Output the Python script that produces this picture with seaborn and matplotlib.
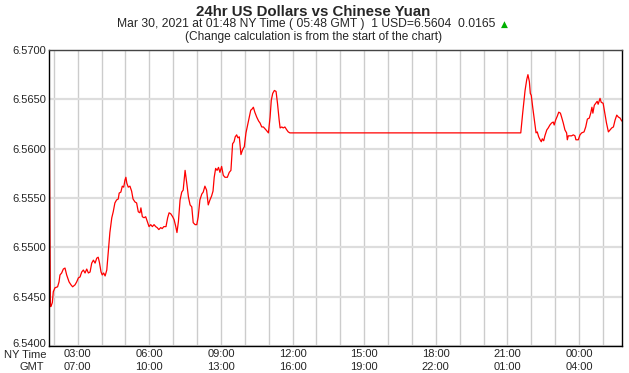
import matplotlib
matplotlib.use("Agg")
import matplotlib.pyplot as plt
from matplotlib.ticker import MultipleLocator, FixedLocator
import matplotlib.transforms as mtransforms
import seaborn as sns
import pandas as pd

# Time in hours (NY time, Mar 29 -> values > 24 are Mar 30)
hours = [1.82, 1.86, 1.88, 1.94, 1.98, 2.05, 2.16, 2.22, 2.26, 2.33, 2.40, 2.47, 2.54, 2.64, 2.72, 2.79,
         2.89, 2.96, 3.03, 3.10, 3.17, 3.24, 3.31, 3.38, 3.45, 3.52, 3.59, 3.66, 3.73, 3.80, 3.86, 3.91,
         3.98, 4.03, 4.09, 4.15, 4.22, 4.28, 4.35, 4.43, 4.49, 4.56, 4.63, 4.70, 4.74, 4.81, 4.87, 4.93,
         4.98, 5.02, 5.06, 5.12, 5.19, 5.26, 5.32, 5.40, 5.47, 5.54, 5.61, 5.65, 5.71, 5.78, 5.85, 5.92,
         5.99, 6.06, 6.13, 6.20, 6.27, 6.33, 6.40, 6.48, 6.54, 6.61, 6.70, 6.77, 6.83, 6.90, 6.98, 7.04,
         7.11, 7.16, 7.22, 7.29, 7.36, 7.42, 7.50, 7.57, 7.64, 7.71, 7.78, 7.84, 7.92, 7.99, 8.05, 8.12,
         8.20, 8.26, 8.33, 8.40, 8.47, 8.54, 8.61, 8.67, 8.72, 8.78, 8.84, 8.90, 8.96, 9.03, 9.10, 9.17,
         9.27, 9.35, 9.42, 9.49, 9.55, 9.60, 9.66, 9.71, 9.77, 9.84, 9.91, 9.98, 10.05, 10.12, 10.19,
         10.25, 10.30, 10.36, 10.42, 10.50, 10.58, 10.64, 10.71, 10.78, 10.89, 10.99, 11.06, 11.11, 11.17,
         11.24, 11.31, 11.37, 11.44, 11.48, 11.55, 11.61, 11.68, 11.76, 11.82, 11.89, 21.56, 21.64, 21.74,
         21.81, 21.86, 21.92, 21.96, 22.00, 22.06, 22.13, 22.20, 22.25, 22.31, 22.37, 22.42, 22.46, 22.52,
         22.57, 22.65, 22.71, 22.78, 22.85, 22.92, 22.96, 23.02, 23.09, 23.15, 23.22, 23.27, 23.34, 23.41,
         23.48, 23.51, 23.55, 23.69, 23.76, 23.83, 23.87, 23.97, 24.04, 24.11, 24.21, 24.28, 24.35, 24.43,
         24.49, 24.54, 24.58, 24.64, 24.70, 24.76, 24.80, 24.88, 24.93, 25.01, 25.08, 25.15, 25.23, 25.30,
         25.37, 25.44, 25.51, 25.58, 25.65, 25.72, 25.79]

rates = [6.5600, 6.5440, 6.5440, 6.5444, 6.5455, 6.5459, 6.5460, 6.5465, 6.5472, 6.5474, 6.5478, 6.5479,
         6.5472, 6.5465, 6.5462, 6.5460, 6.5462, 6.5465, 6.5469, 6.5470, 6.5475, 6.5477, 6.5474, 6.5478,
         6.5474, 6.5475, 6.5484, 6.5487, 6.5484, 6.5489, 6.5490, 6.5485, 6.5475, 6.5472, 6.5474, 6.5471,
         6.5477, 6.5494, 6.5515, 6.5530, 6.5536, 6.5545, 6.5548, 6.5549, 6.5555, 6.5556, 6.5562, 6.5561,
         6.5568, 6.5571, 6.5565, 6.5561, 6.5562, 6.5557, 6.5549, 6.5546, 6.5545, 6.5536, 6.5535, 6.5540,
         6.5531, 6.5530, 6.5531, 6.5526, 6.5521, 6.5523, 6.5521, 6.5523, 6.5521, 6.5520, 6.5518, 6.5520,
         6.5519, 6.5521, 6.5521, 6.5530, 6.5535, 6.5534, 6.5531, 6.5528, 6.5521, 6.5515, 6.5526, 6.5548,
         6.5556, 6.5558, 6.5578, 6.5565, 6.5551, 6.5543, 6.5541, 6.5525, 6.5523, 6.5523, 6.5531, 6.5548,
         6.5554, 6.5556, 6.5562, 6.5558, 6.5543, 6.5548, 6.5552, 6.5557, 6.5571, 6.5580, 6.5578, 6.5581,
         6.5576, 6.5582, 6.5573, 6.5571, 6.5571, 6.5576, 6.5578, 6.5605, 6.5607, 6.5612, 6.5614, 6.5611,
         6.5612, 6.5594, 6.5599, 6.5602, 6.5616, 6.5624, 6.5632, 6.5639, 6.5640, 6.5642, 6.5637, 6.5632,
         6.5628, 6.5626, 6.5622, 6.5622, 6.5619, 6.5616, 6.5632, 6.5649, 6.5656, 6.5659, 6.5658, 6.5646,
         6.5629, 6.5621, 6.5622, 6.5621, 6.5622, 6.5619, 6.5617, 6.5616, 6.5616, 6.5636, 6.5659, 6.5670,
         6.5675, 6.5668, 6.5656, 6.5654, 6.5642, 6.5629, 6.5616, 6.5617, 6.5612, 6.5609, 6.5607, 6.5610,
         6.5608, 6.5613, 6.5619, 6.5621, 6.5624, 6.5626, 6.5627, 6.5624, 6.5629, 6.5633, 6.5637, 6.5636,
         6.5632, 6.5626, 6.5619, 6.5616, 6.5609, 6.5613, 6.5613, 6.5614, 6.5613, 6.5609, 6.5609, 6.5614,
         6.5616, 6.5617, 6.5622, 6.5630, 6.5631, 6.5636, 6.5642, 6.5636, 6.5644, 6.5646, 6.5648, 6.5645,
         6.5651, 6.5647, 6.5646, 6.5636, 6.5626, 6.5617, 6.5619, 6.5621, 6.5622, 6.5629, 6.5634, 6.5632,
         6.5631, 6.5628]

tick_hours = [3, 6, 9, 12, 15, 18, 21, 24]
ny_labels = ["03:00", "06:00", "09:00", "12:00", "15:00", "18:00", "21:00", "00:00"]
gmt_labels = ["07:00", "10:00", "13:00", "16:00", "19:00", "22:00", "01:00", "04:00"]
y_ticks = [6.5400, 6.5450, 6.5500, 6.5550, 6.5600, 6.5650, 6.5700]

title = "24hr US Dollars vs Chinese Yuan"
subtitle = "Mar 30, 2021 at 01:48 NY Time ( 05:48 GMT )  1 USD=6.5604  0.0165"
note = "(Change calculation is from the start of the chart)"

sns.set_style("white")
plt.rcParams['font.family'] = ['Liberation Sans', 'DejaVu Sans']

W, H = 629, 373
fig = plt.figure(figsize=(W / 100, H / 100), dpi=100)
ax = fig.add_axes([49 / W, 1 - 346 / H, (622 - 49) / W, (346 - 50) / H])

df = pd.DataFrame({"hour": hours, "rate": rates})
sns.lineplot(data=df, x="hour", y="rate", ax=ax, color="#ff0000", linewidth=0.9, sort=False)

ax.set_xlim(1.8, 25.8)
ax.set_ylim(6.54, 6.57)
ax.set_xlabel("")
ax.set_ylabel("")

ax.xaxis.set_major_locator(FixedLocator(tick_hours))
ax.xaxis.set_minor_locator(MultipleLocator(1))
ax.set_xticks(tick_hours)
ax.set_xticklabels([f"{a}\n{b}" for a, b in zip(ny_labels, gmt_labels)], fontsize=8, linespacing=1.3)
ax.tick_params(axis="x", which="both", length=0, pad=2.5)

ax.set_yticks(y_ticks)
ax.set_yticklabels([f"{v:.4f}" for v in y_ticks], fontsize=8)
ax.tick_params(axis="y", which="major", direction="in", length=5, width=1.5, color="#333333", pad=2)

# nudge the bottom y label up slightly so it clears the "NY Time" caption
bottom_label = ax.get_yticklabels()[0]
bottom_label.set_transform(bottom_label.get_transform() +
                           mtransforms.ScaledTranslation(0, 3 / 100, fig.dpi_scale_trans))

ax.grid(False)
ax.xaxis.grid(True, which="both", color="#cccccc", linewidth=1)
ax.yaxis.grid(True, which="major", color="#dddddd", linewidth=1.6)
ax.set_axisbelow(True)

for side in ["left", "bottom", "right"]:
    ax.spines[side].set_color("black")
    ax.spines[side].set_linewidth(1)
    ax.spines[side].set_visible(True)
ax.spines["top"].set_color("#444444")
ax.spines["top"].set_linewidth(1)
ax.spines["top"].set_visible(True)

fig.text(313 / W, 1 - 12 / H, title, ha="center", va="center", fontsize=10.8, fontweight="bold")
fig.text(306 / W, 1 - 24.5 / H, subtitle, ha="center", va="center", fontsize=8.7)
fig.text(314 / W, 1 - 37 / H, note, ha="center", va="center", fontsize=8.6)
fig.text(504.5 / W, 1 - 24 / H, "\u25B2", ha="center", va="center", fontsize=6.5, color="#00b000",
         family=["DejaVu Sans"])

fig.text(46 / W, 1 - 355 / H, "NY Time", ha="right", va="center", fontsize=8)
fig.text(44 / W, 1 - 367 / H, "GMT", ha="right", va="center", fontsize=8)

fig.savefig("out.png", dpi=100)
